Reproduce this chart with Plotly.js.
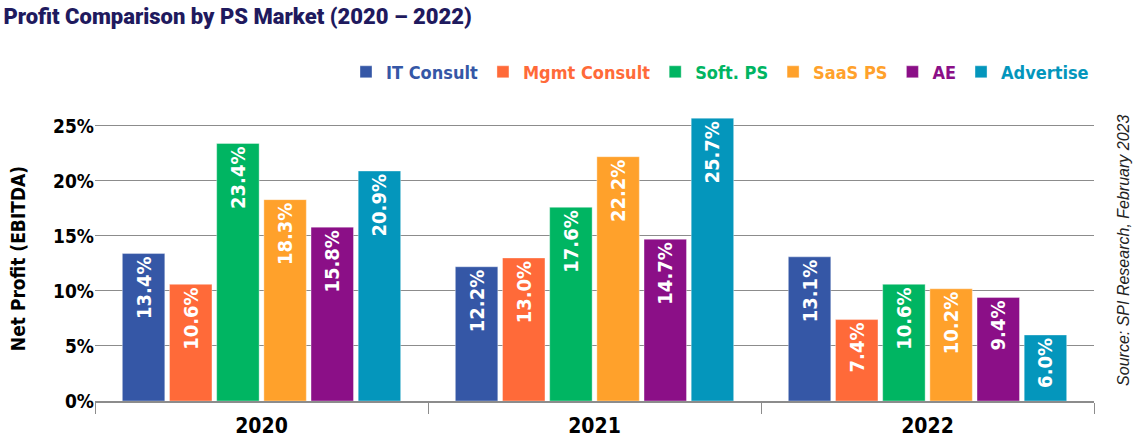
<!DOCTYPE html>
<html>
<head>
<meta charset="utf-8">
<script src="https://cdn.plot.ly/plotly-3.0.1.min.js"></script>
<style>html,body{margin:0;padding:0;background:#fff;}#chart{width:1138px;height:440px;}</style>
</head>
<body>
<div id="chart"></div>
<script>
var years = ['2020', '2021', '2022'];
var seriesNames = ['IT Consult', 'Mgmt Consult', 'Soft. PS', 'SaaS PS', 'AE', 'Advertise'];
var seriesColors = ['#3557A6', '#FF6A39', '#00B562', '#FFA12B', '#8B0F87', '#0496BC'];
var itConsult = [13.4, 12.2, 13.1];
var mgmtConsult = [10.6, 13.0, 7.4];
var softPS = [23.4, 17.6, 10.6];
var saasPS = [18.3, 22.2, 10.2];
var ae = [15.8, 14.7, 9.4];
var advertise = [20.9, 25.7, 6.0];
var yTicks = [0, 5, 10, 15, 20, 25];

var FONT = "'DejaVu Sans Condensed', 'Liberation Sans Narrow', 'Roboto', sans-serif";
var values = [itConsult, mgmtConsult, softPS, saasPS, ae, advertise];

var traces = values.map(function (v, i) {
  return {
    type: 'bar',
    x: years,
    y: v,
    name: '<span style="color:' + seriesColors[i] + '">' + seriesNames[i] + '</span>',
    marker: { color: seriesColors[i], line: { color: 'rgba(255,255,255,0.6)', width: 0.6 } },
    texttemplate: '%{y:.1f}%',
    textposition: 'inside',
    insidetextanchor: 'end',
    textangle: -90,
    constraintext: 'none',
    insidetextfont: { family: FONT, size: 20, color: '#ffffff', weight: 'bold' },
    hoverinfo: 'none'
  };
});

var layout = {
  width: 1138,
  height: 440,
  margin: { l: 95, r: 44, t: 116, b: 39 },
  paper_bgcolor: '#ffffff',
  plot_bgcolor: '#ffffff',
  barmode: 'group',
  bargap: 0.15,
  bargroupgap: 0.1,
  font: { family: FONT, color: '#000000' },
  title: {
    text: 'Profit Comparison by PS Market (2020 – 2022)',
    font: { family: "'Roboto', 'DejaVu Sans', sans-serif", size: 22, color: '#1F1A5E', weight: 900 },
    x: 0.003, xref: 'container', xanchor: 'left',
    y: 0.962, yref: 'container', yanchor: 'middle'
  },
  legend: {
    orientation: 'h',
    x: 1, xanchor: 'right',
    y: 1.154, yanchor: 'middle',
    font: { family: FONT, size: 18, weight: 'bold' },
    traceorder: 'normal',
    itemclick: false
  },
  xaxis: {
    type: 'category',
    showline: true,
    linecolor: '#8c8c8c',
    linewidth: 1.5,
    ticks: 'outside',
    tickson: 'boundaries',
    ticklen: 11,
    tickcolor: '#8c8c8c',
    tickwidth: 1,
    ticklabelstandoff: 5,
    tickfont: { family: FONT, size: 21, color: '#000', weight: 'bold' },
    showgrid: false,
    zeroline: false
  },
  yaxis: {
    range: [0, 25.9],
    tickvals: yTicks,
    ticktext: yTicks.map(function (t) { return t + '%'; }),
    tickfont: { family: FONT, size: 19, color: '#000', weight: 'bold' },
    showgrid: true,
    gridcolor: '#8c8c8c',
    gridwidth: 1,
    zeroline: false,
    ticks: '',
    title: {
      text: 'Net Profit (EBITDA)',
      font: { family: FONT, size: 19, color: '#000', weight: 'bold' },
      standoff: 22
    }
  },
  annotations: [{
    text: '<i>Source: SPI Research, February 2023</i>',
    xref: 'paper', yref: 'paper',
    x: 1.03, y: 0.53,
    xanchor: 'center', yanchor: 'middle',
    textangle: -90,
    showarrow: false,
    font: { family: "'Liberation Sans', 'DejaVu Sans', sans-serif", size: 16, color: '#222' }
  }]
};

Plotly.newPlot('chart', traces, layout, { staticPlot: true, displayModeBar: false });
</script>
</body>
</html>
